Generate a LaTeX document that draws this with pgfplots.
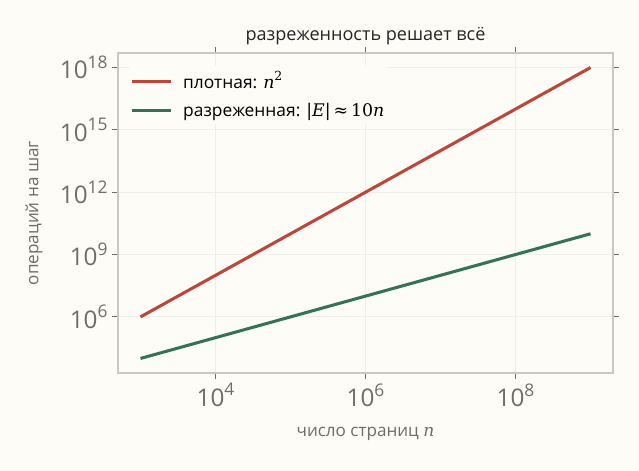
\documentclass[border=0pt]{standalone}
\usepackage{pgfplots}
\pgfplotsset{compat=1.18}
\usepackage{fontspec}
\setmainfont{Open Sans}
\newfontfamily\mserif{DejaVu Serif}
\definecolor{bgc}{HTML}{FDFCF7}
\definecolor{dense}{HTML}{BC4639}
\definecolor{sparse}{HTML}{357259}
\definecolor{framec}{HTML}{C9C9C1}
\definecolor{tickc}{HTML}{6E6E68}
\definecolor{gridc}{HTML}{EFEFEA}
\newcommand{\pw}[1]{10\raisebox{0.42em}{\fontsize{12.5}{13}\selectfont #1}}
\begin{document}
\begin{tikzpicture}
\path[fill=bgc] (0,0) rectangle (460.08pt,339.12pt);
\begin{axis}[
    at={(84.96pt,70.56pt)}, anchor=south west,
    scale only axis,
    width=356.4pt, height=230.4pt,
    xmode=log, ymode=log,
    xmin=10^2.7, xmax=10^9.3,
    ymin=10^3.3, ymax=10^18.7,
    xtick={1e4,1e6,1e8},
    xticklabels={\pw{4},\pw{6},\pw{8}},
    ytick={1e6,1e9,1e12,1e15,1e18},
    yticklabels={\pw{6},\pw{9},\pw{12},\pw{15},\pw{18}},
    minor xtick={}, minor ytick={},
    tick label style={font=\fontsize{17.5}{19}\selectfont, text=tickc},
    tick style={draw=tickc, line width=0.8pt},
    major tick length=4pt,
    tick align=outside,
    axis line style={draw=framec, line width=1.1pt},
    xmajorgrids, ymajorgrids,
    major grid style={draw=gridc, line width=0.6pt},
    title={разреженность решает всё},
    title style={font=\fontsize{13}{15}\selectfont, text=black!85, yshift=-3.5pt},
    xlabel={число страниц {\mserif\itshape n}},
    ylabel={операций на шаг},
    label style={font=\fontsize{12.3}{14}\selectfont, text=tickc},
    xlabel style={at={(axis description cs:0.5,-0.19)}, anchor=center},
    ylabel style={at={(axis description cs:-0.17,0.5)}, anchor=center},
    legend style={at={(0.024,0.96)}, anchor=north west, draw=none, fill=bgc,
        font=\fontsize{12.5}{14}\selectfont, row sep=5pt, inner xsep=0pt, inner ysep=2pt},
    legend cell align=left,
    legend image code/.code={\draw[#1] (0pt,0pt) -- (28pt,0pt); \path (34pt,0pt);},
    clip=false,
]
\addplot[dense, line width=2.2pt] coordinates {
    (1e3,1e6)(1e4,1e8)(1e5,1e10)(1e6,1e12)(1e7,1e14)(1e8,1e16)(1e9,1e18)
};
\addlegendentry{плотная: {\mserif\itshape n\raisebox{0.45em}{\upshape\fontsize{9}{10}\selectfont 2}}}
\addplot[sparse, line width=2.2pt] coordinates {
    (1e3,1e4)(1e4,1e5)(1e5,1e6)(1e6,1e7)(1e7,1e8)(1e8,1e9)(1e9,1e10)
};
\addlegendentry{разреженная: {\mserif |\textit{E}|\,≈\,10\textit{n}}}
\end{axis}
\end{tikzpicture}
\end{document}
